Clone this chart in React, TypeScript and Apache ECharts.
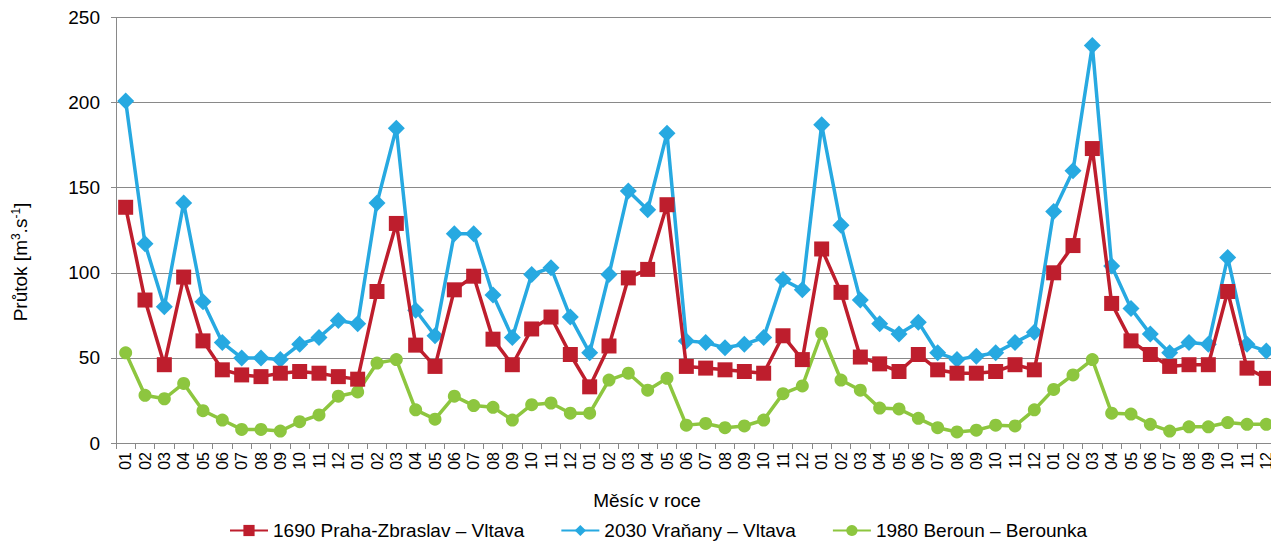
import React, { useEffect, useRef } from "react";
import * as echarts from "echarts";

const months = ["01", "02", "03", "04", "05", "06", "07", "08", "09", "10", "11", "12"];
const yearsCount = 5;
const yTicks = [0, 50, 100, 150, 200, 250];

const seriesNames = ["1690 Praha-Zbraslav – Vltava", "2030 Vraňany – Vltava", "1980 Beroun – Berounka"];
const xAxisTitle = "Měsíc v roce";
const yAxisTitle = "{n|Průtok [m}{s|3}{n|.s}{s|-1}{n|]}";

const prahaZbraslav = [
  138.5, 84, 46, 97.5, 60, 43, 40, 39, 41, 42, 41, 39,
  37.5, 89, 129, 57.5, 45, 90, 98, 61, 46, 67, 74, 52,
  33, 57, 97, 102, 140, 45, 44, 43, 42, 41, 63, 49,
  114, 88.5, 50.5, 46.5, 42, 52, 43, 41, 41, 42, 46, 43,
  100, 116, 173, 82, 60, 52, 45, 46, 46, 89, 44, 38,
];

const vranany = [
  201, 117, 80, 141, 83, 59, 50, 50, 49, 58, 62, 72,
  70, 141, 185, 78, 63, 123, 123, 87, 62, 99, 103, 74,
  53, 99, 148, 137, 182, 60, 59, 56, 58, 62, 96, 90,
  187, 128, 84, 70, 64, 71, 53, 49, 51, 53, 59, 65,
  136, 160, 233.5, 104, 79, 64, 53, 59, 58, 109, 58, 54,
];

const beroun = [
  53, 28, 26, 35, 19, 13.5, 8, 8, 7, 12.5, 16.5, 27.5,
  30, 47, 49, 19.5, 14, 27.5, 22, 21, 13.5, 22.5, 23.5, 17.5,
  17.5, 37, 41, 31, 38, 10.5, 11.5, 9, 10, 13.5, 29, 33.5,
  64.5, 37, 31, 20.5, 20, 14.5, 9, 6.5, 7.5, 10.5, 10, 19.5,
  31.5, 40, 49, 17.5, 17, 11, 7, 9.5, 9.5, 12, 11, 11,
];

const colors = ["#BE1E2D", "#27A9E1", "#8DC63F"];

const categories: string[] = [];
for (let y = 0; y < yearsCount; y++) {
  for (const m of months) categories.push(m);
}

export default function App() {
  const ref = useRef<HTMLDivElement>(null);
  useEffect(() => {
    if (!ref.current) return;
    const chart = echarts.init(ref.current, null, { renderer: "svg" });
    const font = "'Liberation Sans', Arial, sans-serif";
    chart.setOption({
      animation: false,
      textStyle: { fontFamily: font },
      grid: { left: 108, right: 3, top: 9, bottom: 99, containLabel: false },
      legend: {
        top: 508,
        left: 216,
        itemWidth: 38,
        itemHeight: 14,
        itemGap: 36,
        textStyle: { fontSize: 19, color: "#000", fontFamily: font },
        data: seriesNames,
      },
      graphic: [
        {
          type: "text",
          x: 639,
          y: 492,
          style: {
            text: xAxisTitle,
            fontSize: 19,
            fontFamily: font,
            fill: "#000",
            align: "center",
            verticalAlign: "middle",
          },
        },
        {
          type: "text",
          x: 12,
          y: 254,
          rotation: Math.PI / 2,
          style: {
            text: yAxisTitle,
            align: "center",
            verticalAlign: "middle",
            rich: {
              n: { fontSize: 19, fill: "#000", fontFamily: font },
              s: { fontSize: 12, fill: "#000", fontFamily: font, verticalAlign: "top", padding: [0, 0, 8, 0] },
            },
          },
        },
      ],
      xAxis: {
        type: "category",
        data: categories,
        boundaryGap: true,
        axisLine: { lineStyle: { color: "#898989", width: 1 } },
        axisTick: { show: true, interval: 0, length: 6, lineStyle: { color: "#898989" } },
        axisLabel: { interval: 0, rotate: 90, fontSize: 16, color: "#000", margin: 9, fontFamily: font },
        splitLine: { show: false },
      },
      yAxis: {
        type: "value",
        min: yTicks[0],
        max: yTicks[yTicks.length - 1],
        interval: 50,
        axisLine: { show: true, lineStyle: { color: "#898989", width: 1 } },
        axisTick: { show: true, length: 5, lineStyle: { color: "#898989" } },
        axisLabel: { fontSize: 19, color: "#000", margin: 16, fontFamily: font },
        splitLine: { show: true, lineStyle: { color: "#898989", width: 1 } },
      },
      series: [
        {
          name: seriesNames[0],
          type: "line",
          data: prahaZbraslav,
          symbol: "rect",
          symbolSize: 15,
          lineStyle: { color: colors[0], width: 3.5 },
          itemStyle: { color: colors[0] },
          z: 3,
        },
        {
          name: seriesNames[1],
          type: "line",
          data: vranany,
          symbol: "diamond",
          symbolSize: 17,
          lineStyle: { color: colors[1], width: 3.5 },
          itemStyle: { color: colors[1] },
          z: 2,
        },
        {
          name: seriesNames[2],
          type: "line",
          data: beroun,
          symbol: "circle",
          symbolSize: 13,
          lineStyle: { color: colors[2], width: 3.5 },
          itemStyle: { color: colors[2] },
          z: 1,
        },
      ],
    });
    return () => chart.dispose();
  }, []);
  return <div ref={ref} style={{ width: 1271, height: 534 }} />;
}
